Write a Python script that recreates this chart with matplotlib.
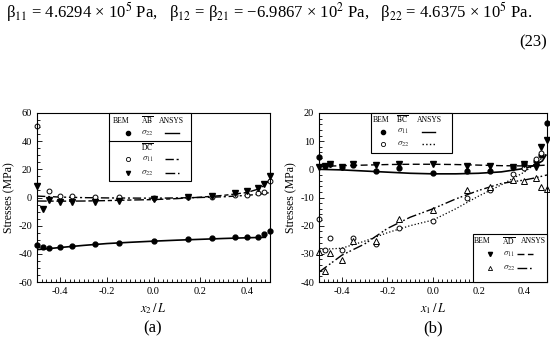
import matplotlib
matplotlib.use('Agg')
from matplotlib import pyplot as plt
from matplotlib.patches import Rectangle
from matplotlib.ticker import MultipleLocator

plt.rcParams['font.family'] = ['Liberation Serif', 'DejaVu Serif']
plt.rcParams['mathtext.fontset'] = 'stix'

# ---- panel (a) data ----
xa = [-0.5, -0.475, -0.45, -0.4, -0.35, -0.25, -0.15, 0.0, 0.15, 0.25, 0.35, 0.4, 0.45, 0.475, 0.5]
ab_s22_bem = [-33.8, -35.5, -36.2, -35.0, -34.5, -33.3, -32.4, -31.0, -29.8, -29.0, -28.3, -28.1, -27.9, -26.0, -23.6]
xa_dc11 = [-0.5, -0.45, -0.4, -0.35, -0.25, -0.15, 0.0, 0.15, 0.25, 0.35, 0.4, 0.45, 0.475, 0.5]
dc_s11_bem = [51.0, 4.5, 1.0, 1.0, 0.3, 0.3, 0.0, 0.2, 0.5, 2.0, 2.0, 3.0, 4.0, 12.0]
dc_s22_bem = [8.0, -8.1, -1.5, -3.3, -3.3, -2.9, -2.4, -1.4, 0.5, 1.4, 3.3, 4.8, 7.0, 9.8, 15.0]

xa_ansys = [-0.5, -0.45, -0.4, -0.3, -0.2, -0.1, 0.0, 0.1, 0.2, 0.3, 0.4, 0.45, 0.48]
ab_s22_ansys = [-37.0, -36.3, -35.5, -34.0, -32.7, -31.8, -31.0, -30.3, -29.7, -29.1, -28.6, -28.4, -28.3]
xa_ansys_dc = [-0.5, -0.4, -0.3, -0.2, -0.1, 0.0, 0.1, 0.2, 0.3, 0.4, 0.45, 0.48, 0.5]
dc_s11_ansys = [1.0, 0.3, -0.1, -0.3, -0.4, -0.5, -0.3, 0.0, 0.5, 1.5, 2.3, 3.0, 3.5]
dc_s22_ansys = [-2.5, -2.6, -2.5, -2.2, -1.8, -1.5, -0.8, 0.2, 1.5, 3.5, 6.0, 9.0, 13.0]

# ---- panel (b) data ----
xb = [-0.5, -0.475, -0.45, -0.4, -0.35, -0.25, -0.15, 0.0, 0.15, 0.25, 0.35, 0.4, 0.45, 0.475, 0.5]
bc_s11_bem = [4.3, 1.3, 1.8, 0.8, 1.5, -0.5, 0.4, -1.4, -0.6, -0.5, 1.0, 1.8, 3.1, 5.1, 16.6]
xb_bc22 = [-0.5, -0.475, -0.45, -0.4, -0.35, -0.25, -0.15, 0.0, 0.15, 0.25, 0.35, 0.4, 0.45, 0.475]
bc_s22_bem = [-17.8, -28.5, -24.5, -28.8, -24.5, -26.6, -20.7, -18.3, -10.0, -7.2, -1.8, 0.5, 3.8, 5.8]
ad_s11_bem = [1.0, 1.2, 1.8, 0.8, 1.8, 1.5, 2.0, 1.8, 1.3, 1.2, 1.0, 1.8, 1.0, 7.8, 10.5]
ad_s22_bem = [-29.2, -36.2, -29.8, -32.3, -25.5, -25.5, -17.7, -14.5, -7.5, -6.3, -3.8, -4.3, -3.0, -6.2, -7.0]

xb_ansys = [-0.5, -0.4, -0.3, -0.2, -0.1, 0.0, 0.1, 0.2, 0.3, 0.4, 0.45, 0.48, 0.495]
bc_s11_ansys = [0.0, -0.2, -0.6, -1.0, -1.4, -1.6, -1.6, -1.4, -0.9, 0.3, 1.5, 3.0, 5.0]
xb_ansys2 = [-0.5, -0.4, -0.3, -0.2, -0.1, 0.0, 0.1, 0.2, 0.3, 0.4, 0.45, 0.5]
bc_s22_ansys = [-28.5, -28.0, -25.5, -22.5, -20.0, -18.0, -14.0, -9.5, -5.5, -1.0, 2.0, 5.5]
ad_s11_ansys = [1.0, 1.3, 1.5, 1.7, 1.8, 1.8, 1.7, 1.5, 1.3, 1.2, 1.3, 1.5]
ad_s22_ansys = [-36.5, -30.5, -26.5, -21.0, -17.0, -14.0, -10.5, -7.5, -5.0, -3.8, -3.0, -2.0]

ls_s11 = (0, (6, 2, 1.5, 2))
ls_s22 = (0, (7, 2, 3, 2))
ls_dd = (0, (7, 2, 1.2, 1.5, 1.2, 2))
ms = 3.5

fig = plt.figure(figsize=(5.5, 3.43), dpi=100)
ax1 = fig.add_axes([37 / 550, 61 / 343, 233 / 550, 169 / 343])
ax2 = fig.add_axes([319 / 550, 61 / 343, 228 / 550, 169 / 343])

fig.text(0.01, 0.965, 'β$_{11}$ = 4.6294 × 10$^5$ Pa,   β$_{12}$ = β$_{21}$ = −6.9867 × 10$^2$ Pa,   β$_{22}$ = 4.6375 × 10$^5$ Pa.',
         fontsize=12, va='center', ha='left')
fig.text(0.995, 0.875, '(23)', fontsize=12, va='center', ha='right')

# (a)
ax1.plot(xa_ansys, ab_s22_ansys, 'k-', lw=1.2)
ax1.plot(xa_ansys_dc, dc_s11_ansys, color='k', ls=ls_s11, lw=1.0)
ax1.plot(xa_ansys_dc, dc_s22_ansys, color='k', ls=ls_s22, lw=1.0)
ax1.plot(xa, ab_s22_bem, 'ko', ms=ms, ls='none', clip_on=False)
ax1.plot(xa_dc11, dc_s11_bem, 'o', mfc='white', mec='k', mew=0.7, ms=ms, ls='none', clip_on=False)
ax1.plot(xa, dc_s22_bem, 'kv', ms=ms + 0.5, ls='none', clip_on=False)
ax1.set_xlim(-0.5, 0.5)
ax1.set_ylim(-60, 60)
ax1.set_yticks([-60, -40, -20, 0, 20, 40, 60])
ax1.yaxis.set_minor_locator(MultipleLocator(5))
ax1.set_xlabel(r'$x_2\,/\,L$', fontsize=9)
ax1.set_ylabel('Stresses (MPa)', fontsize=8.5, labelpad=2)

# (b)
ax2.plot(xb_ansys, bc_s11_ansys, 'k-', lw=1.2)
ax2.plot(xb_ansys2, bc_s22_ansys, color='k', ls=':', lw=0.9)
ax2.plot(xb_ansys2, ad_s11_ansys, color='k', ls=(0, (5, 2.5)), lw=1.0)
ax2.plot(xb_ansys2, ad_s22_ansys, color='k', ls=ls_dd, lw=1.0)
ax2.plot(xb, bc_s11_bem, 'ko', ms=ms, ls='none', clip_on=False)
ax2.plot(xb_bc22, bc_s22_bem, 'o', mfc='white', mec='k', mew=0.7, ms=ms, ls='none', clip_on=False)
ax2.plot(xb, ad_s11_bem, 'kv', ms=ms + 0.5, ls='none', clip_on=False)
ax2.plot(xb, ad_s22_bem, '^', mfc='white', mec='k', mew=0.7, ms=ms + 0.5, ls='none', clip_on=False)
ax2.set_xlim(-0.5, 0.5)
ax2.set_ylim(-40, 20)
ax2.set_yticks([-40, -30, -20, -10, 0, 10, 20])
ax2.yaxis.set_minor_locator(MultipleLocator(2))
ax2.set_xlabel(r'$x_1\,/\,L$', fontsize=9)
ax2.set_ylabel('Stresses (MPa)', fontsize=8.5, labelpad=2)

for ax in (ax1, ax2):
    ax.set_xticks([-0.4, -0.2, 0.0, 0.2, 0.4])
    ax.set_xticklabels(['-0.4', '-0.2', '0.0', '0.2', '0.4'])
    ax.xaxis.set_minor_locator(MultipleLocator(0.02))
    ax.tick_params(which='both', direction='in', labelsize=7.5, width=0.6)
    ax.tick_params(which='major', length=3.5)
    ax.tick_params(which='minor', length=2)
    for s in ax.spines.values():
        s.set_linewidth(0.8)
    ax.set_yticklabels([str(int(t)) for t in ax.get_yticks()])


def box(ax, x0, y0, x1, y1):
    ax.add_patch(Rectangle((x0, y0), x1 - x0, y1 - y0, transform=ax.transAxes,
                           fill=True, fc='white', ec='k', lw=0.8, zorder=5, clip_on=False))


def row(ax, y, cols, marker, mstyle, label, ls, lx):
    kw = dict(transform=ax.transAxes, zorder=6, clip_on=False)
    if mstyle == 'filled':
        ax.plot([cols[0]], [y], 'k' + marker, ms=3, **kw)
    else:
        ax.plot([cols[0]], [y], marker, mfc='white', mec='k', mew=0.6, ms=3, **kw)
    ax.text(cols[1], y, label, fontsize=6.5, ha='center', va='center', color='#333333', **kw)
    ax.plot(lx, [y, y], color='k', ls=ls, lw=1.0, **kw)


def header(ax, y, cols, seg):
    kw = dict(transform=ax.transAxes, zorder=6, fontsize=5.5, ha='center', va='center')
    ax.text(cols[0], y, 'BEM', **kw)
    ax.text(cols[1], y, r'$\overline{\mathrm{' + seg + '}}$', **kw)
    ax.text(cols[2], y, 'ANSYS', **kw)


# legend (a)
box(ax1, 0.308, 0.596, 0.662, 1.0)
ax1.plot([0.308, 0.662], [0.837, 0.837], 'k-', lw=0.8, transform=ax1.transAxes, zorder=6)
header(ax1, 0.952, [0.36, 0.475, 0.578], 'AB')
row(ax1, 0.88, [0.39, 0.475], 'o', 'filled', r'$\sigma_{22}$', '-', [0.55, 0.61])
ax1.text(0.475, 0.795, r'$\overline{\mathrm{DC}}$', fontsize=5.5, ha='center', va='center', transform=ax1.transAxes, zorder=6)
row(ax1, 0.725, [0.39, 0.475], 'o', 'open', r'$\sigma_{11}$', ls_s11, [0.55, 0.61])
row(ax1, 0.645, [0.39, 0.475], 'v', 'filled', r'$\sigma_{22}$', ls_s22, [0.55, 0.61])

# legend (b) top
box(ax2, 0.227, 0.761, 0.583, 1.0)
header(ax2, 0.958, [0.273, 0.363, 0.486], 'BC')
row(ax2, 0.89, [0.281, 0.37], 'o', 'filled', r'$\sigma_{11}$', '-', [0.45, 0.51])
row(ax2, 0.815, [0.281, 0.37], 'o', 'open', r'$\sigma_{22}$', ':', [0.45, 0.51])

# legend (b) bottom
box(ax2, 0.674, 0.0, 1.0, 0.284)
header(ax2, 0.24, [0.714, 0.83, 0.941], 'AD')
row(ax2, 0.165, [0.748, 0.835], 'v', 'filled', r'$\sigma_{11}$', (0, (5, 2.5)), [0.87, 0.94])
row(ax2, 0.08, [0.748, 0.835], '^', 'open', r'$\sigma_{22}$', ls_dd, [0.87, 0.94])

fig.text(153 / 550, 1 - 328 / 343, '(a)', fontsize=12, ha='center', va='center')
fig.text(433 / 550, 1 - 328 / 343, '(b)', fontsize=12, ha='center', va='center')

fig.savefig('out.png', dpi=100)
